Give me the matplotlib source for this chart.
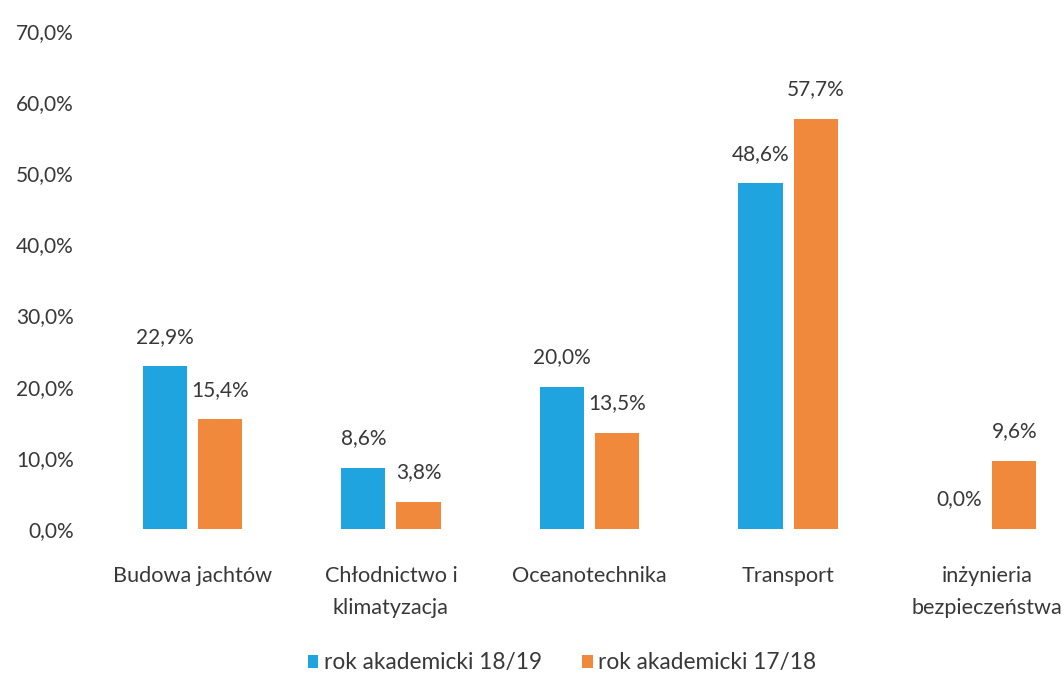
import matplotlib.pyplot as plt
import numpy as np

# data
categories = ['Budowa jachtów', 'Chłodnictwo i\nklimatyzacja', 'Oceanotechnika',
              'Transport', 'inżynieria\nbezpieczeństwa']
rok_18_19 = [22.9, 8.6, 20.0, 48.6, 0.0]
rok_17_18 = [15.4, 3.8, 13.5, 57.7, 9.6]
series_names = ['rok akademicki 18/19', 'rok akademicki 17/18']
yticks = [0, 10, 20, 30, 40, 50, 60, 70]

plt.rcParams['font.family'] = ['Lato', 'DejaVu Sans']
text_col = '#383838'
blue = '#20A4E0'
orange = '#F0893C'

fig = plt.figure(figsize=(10.64, 6.77), dpi=100)
fig.patch.set_facecolor('white')
ax = fig.add_axes([93 / 1064, 1 - 529 / 677, (1086 - 93) / 1064, 498 / 677])

x = np.arange(len(categories))
w = 0.222
off = 0.139
b1 = ax.bar(x - off, rok_18_19, w, color=blue, label=series_names[0])
b2 = ax.bar(x + off, rok_17_18, w, color=orange, label=series_names[1])

for bars in (b1, b2):
    for rect in bars:
        h = rect.get_height()
        ax.annotate(f'{h:.1f}%'.replace('.', ','),
                    (rect.get_x() + rect.get_width() / 2, h),
                    xytext=(0, 14), textcoords='offset points',
                    ha='center', va='bottom', fontsize=15, color=text_col)

ax.set_xlim(-0.5, 4.5)
ax.set_ylim(0, 70)
ax.set_yticks(yticks)
ax.set_yticklabels([f'{v:.1f}%'.replace('.', ',') for v in yticks])
ax.set_xticks(x)
ax.set_xticklabels(categories, linespacing=1.75, fontsize=15.6)
ax.tick_params(axis='both', length=0, labelsize=15, labelcolor=text_col)
ax.tick_params(axis='x', pad=27, labelsize=15.6)
ax.tick_params(axis='y', pad=14)
for s in ax.spines.values():
    s.set_visible(False)

fig.legend(handles=[b1, b2], labels=series_names, loc='center',
           bbox_to_anchor=(562 / 1064, 1 - 663 / 677), ncol=2, frameon=False,
           fontsize=16.3, labelcolor=text_col, handlelength=0.45, handleheight=0.45,
           handletextpad=0.25, columnspacing=1.8)

plt.savefig('out.png', dpi=100)
